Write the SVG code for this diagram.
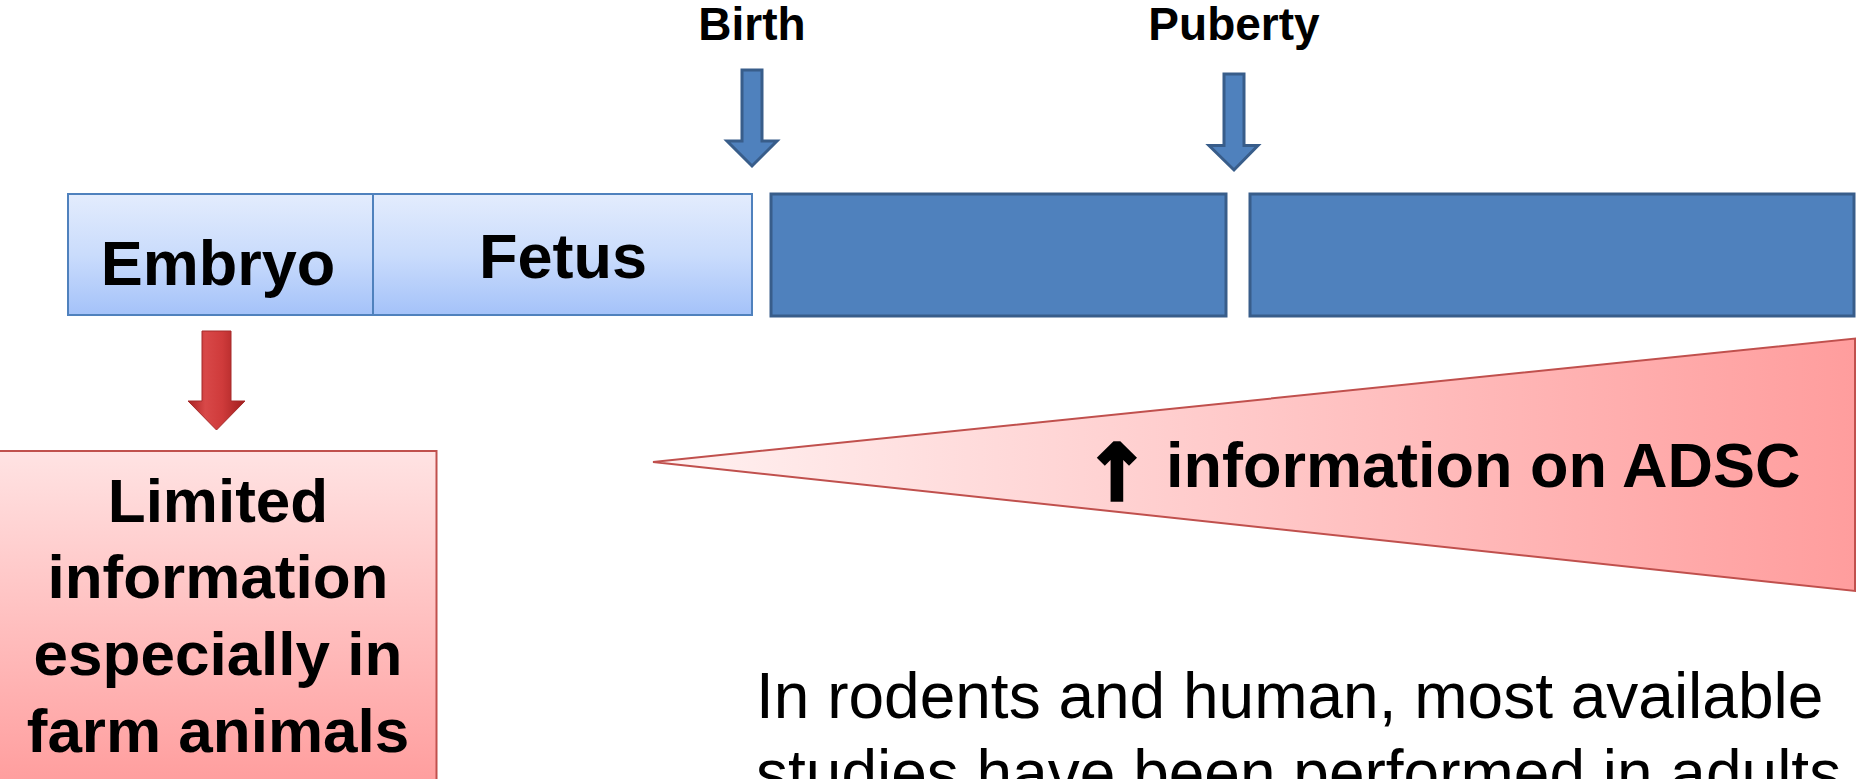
<svg xmlns="http://www.w3.org/2000/svg" width="1856" height="779" viewBox="0 0 1856 779">
<style>
.lbl{font-family:"Liberation Sans",Arial,sans-serif;font-weight:bold;fill:#000;text-anchor:middle}
.body{font-family:"Liberation Sans",Arial,sans-serif;font-weight:normal;fill:#000}
.dark{fill:#4F81BD;stroke:#385D8A;stroke-width:3}
.light{fill:url(#gBlue);stroke:#4F81BD;stroke-width:2}
</style>
<defs>
<linearGradient id="gBlue" x1="0" y1="0" x2="0" y2="1">
<stop offset="0" stop-color="#E3ECFD"/>
<stop offset="0.5" stop-color="#CADCFC"/>
<stop offset="1" stop-color="#A4C2F9"/>
</linearGradient>
<linearGradient id="gRedBox" x1="0" y1="0" x2="0" y2="1">
<stop offset="0" stop-color="#FFE3E3"/>
<stop offset="1" stop-color="#FF9C9C"/>
</linearGradient>
<linearGradient id="gTri" gradientUnits="userSpaceOnUse" x1="652" y1="0" x2="1856" y2="0">
<stop offset="0" stop-color="#FFF2F2"/>
<stop offset="0.5" stop-color="#FFC8C8"/>
<stop offset="1" stop-color="#FF9D9D"/>
</linearGradient>
<linearGradient id="gRedArrow" x1="0" y1="0" x2="1" y2="0">
<stop offset="0" stop-color="#A82222"/>
<stop offset="0.3" stop-color="#D84848"/>
<stop offset="0.6" stop-color="#CF3B3B"/>
<stop offset="1" stop-color="#A01E1E"/>
</linearGradient>
</defs>

<g id="birth-label"><text class="lbl" x="752" y="40" font-size="46">Birth</text></g>
<g id="puberty-label"><text class="lbl" x="1234" y="40" font-size="46">Puberty</text></g>

<g id="embryo"><rect class="light" x="68" y="194" width="305" height="121"/><text class="lbl" x="218" y="285" font-size="63">Embryo</text></g>
<g id="fetus"><rect class="light" x="373" y="194" width="379" height="121"/><text class="lbl" x="563" y="278" font-size="63">Fetus</text></g>
<g id="stage-3"><rect class="dark" x="771" y="194" width="455" height="122"/></g>
<g id="stage-4"><rect class="dark" x="1250" y="194" width="604" height="122"/></g>

<g id="adsc-info">
<polygon points="653,462 1855,338.5 1855,591" fill="url(#gTri)" stroke="#C0504D" stroke-width="2"/>
<text class="lbl" x="1117" y="500" font-size="78" stroke="#000" stroke-width="3.5" style="font-family:'DejaVu Sans',sans-serif">↑</text>
<text class="lbl" x="1166" y="487" font-size="63" style="text-anchor:start">information on ADSC</text>
</g>

<g id="limited-info">
<rect x="-2" y="451" width="438.5" height="340" fill="url(#gRedBox)" stroke="#C0504D" stroke-width="2"/>
<text class="lbl" font-size="62"><tspan x="218" y="522">Limited</tspan><tspan x="218" y="598">information</tspan><tspan x="218" y="675">especially in</tspan><tspan x="218" y="752">farm animals</tspan></text>
</g>

<g id="note"><text class="body" font-size="64"><tspan x="756" y="718">In rodents and human, most available</tspan><tspan x="756" y="795">studies have been performed in adults</tspan></text></g>

<g id="connectors">
<polygon class="dark" points="742,70 762,70 762,141 777,141 752,166 727,141 742,141"/>
<polygon class="dark" points="1224,74 1244,74 1244,145.5 1258,145.5 1234,170 1209,145.5 1224,145.5"/>
<polygon points="202,331 231,331 231,401 245,401 216.5,430 188,401 202,401" fill="url(#gRedArrow)" stroke="#A52A2A" stroke-width="1"/>
</g>
</svg>
